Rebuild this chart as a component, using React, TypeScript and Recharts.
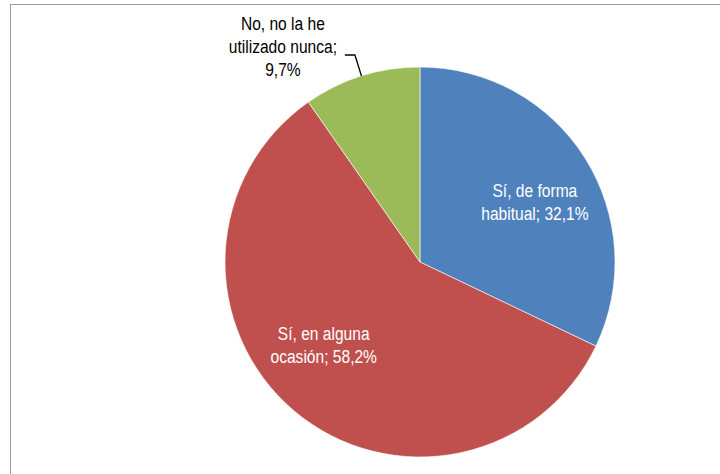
import { PieChart, Pie, Cell } from 'recharts';

const categories = ['Sí, de forma habitual', 'Sí, en alguna ocasión', 'No, no la he utilizado nunca'];
const shares = [32.1, 58.2, 9.7];
const labelLines = [
  ['Sí, de forma', 'habitual; 32,1%'],
  ['Sí, en alguna', 'ocasión; 58,2%'],
  ['No, no la he', 'utilizado nunca;', '9,7%'],
];
const colors = ['#4F81BD', '#C0504D', '#9BBB59'];

const data = categories.map((name, i) => ({ name, value: shares[i] }));

// no narrow font installed, so squeeze Liberation Sans horizontally
const FONT = "'Liberation Sans', Arial, sans-serif";
const NARROW = 0.82;
const RAD = Math.PI / 180;
const LINE_H = 23;

// inside labels sit at ~2/3 radius, nudged like Excel's best fit
const nudges = [
  { dx: 6, dy: 9 },
  { dx: -13, dy: -15 },
];

const Lines = ({ x, top, lines, fill }: { x: number; top: number; lines: string[]; fill: string }) => (
  <g transform={`translate(${x},${top}) scale(${NARROW},1)`}>
    <text x={0} y={0} textAnchor="middle" dominantBaseline="central" fill={fill} fontSize={19} fontFamily={FONT}>
      {lines.map((l, i) => (
        <tspan key={i} x={0} y={i * LINE_H}>{l}</tspan>
      ))}
    </text>
  </g>
);

const renderLabel = (props: any) => {
  const { cx, cy, midAngle, outerRadius, index } = props;
  const lines = labelLines[index];
  const cos = Math.cos(-midAngle * RAD);
  const sin = Math.sin(-midAngle * RAD);

  if (index < 2) {
    const r = outerRadius * 0.66;
    const x = cx + r * cos + nudges[index].dx;
    const y = cy + r * sin + nudges[index].dy;
    const top = y - ((lines.length - 1) * LINE_H) / 2;
    return <Lines x={x} top={top} lines={lines} fill="#ffffff" />;
  }

  // outside label with elbow leader line
  const sx = cx + outerRadius * cos;
  const sy = cy + outerRadius * sin;
  const ex = cx + (outerRadius + 22) * cos;
  const ey = cy + (outerRadius + 22) * sin;
  const hx = ex - 10;
  return (
    <g>
      <polyline points={`${sx},${sy} ${ex},${ey} ${hx},${ey}`} fill="none" stroke="#000000" strokeWidth={1.3} />
      <Lines x={ex - 72} top={ey - 32} lines={lines} fill="#000000" />
    </g>
  );
};

export default function App() {
  return (
    <div style={{ position: 'absolute', left: 0, top: 0, width: 720, height: 474, overflow: 'hidden', background: '#ffffff' }}>
      <div
        style={{
          position: 'absolute',
          left: 10,
          top: 4,
          width: 760,
          height: 520,
          border: '1.5px solid #9a9a9a',
          boxSizing: 'border-box',
        }}
      />
      <div style={{ position: 'absolute', left: 0, top: 0 }}>
        <PieChart width={720} height={474} margin={{ top: 0, right: 0, bottom: 0, left: 0 }}>
          <Pie
            data={data}
            dataKey="value"
            nameKey="name"
            cx={420}
            cy={262}
            outerRadius={195}
            startAngle={90}
            endAngle={-270}
            stroke="#ffffff"
            strokeWidth={0.6}
            label={renderLabel}
            labelLine={false}
            isAnimationActive={false}
          >
            {data.map((d, i) => (
              <Cell key={d.name} fill={colors[i]} />
            ))}
          </Pie>
        </PieChart>
      </div>
    </div>
  );
}
